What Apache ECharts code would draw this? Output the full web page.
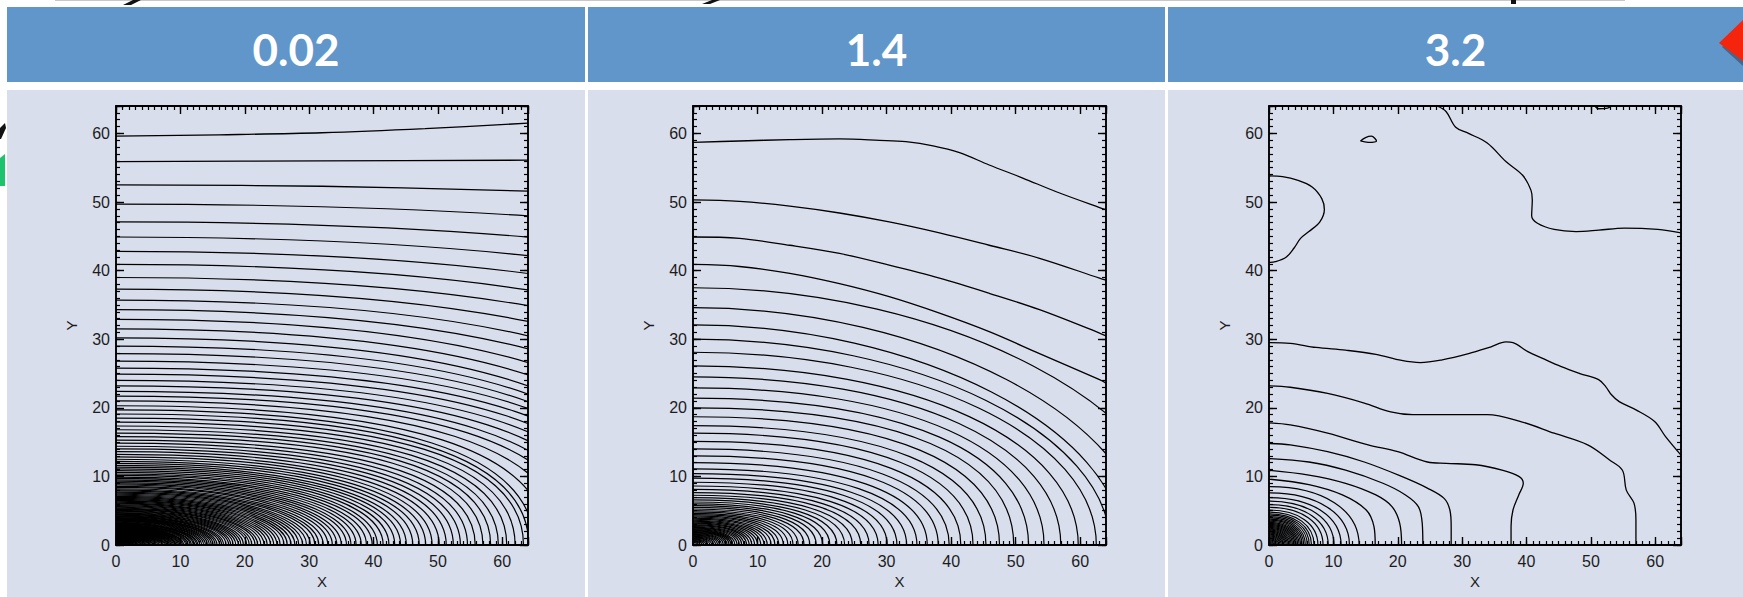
<!DOCTYPE html>
<html>
<head>
<meta charset="utf-8">
<title>Contours</title>
<script src="https://cdn.jsdelivr.net/npm/echarts@6/dist/echarts.min.js"></script>
<style>
  html, body { margin: 0; padding: 0; background: #ffffff; }
  #chart { width: 1743px; height: 597px; }
</style>
</head>
<body>
<div id="chart"></div>
<script>
// ---------------- data ----------------
const panelTitles = ['0.02', '1.4', '3.2'];
const tickLabels = ['0', '10', '20', '30', '40', '50', '60'];
const axisNames = ['X', 'Y'];
const axisMax = 64;

// Panel 1: open contours given as points
const p1Lines = [
  [[0, 59.6], [16, 59.8], [32, 60.1], [48, 60.7], [64, 61.5]],
  [[0, 55.9], [32, 56.0], [64, 56.1]],
  [[0, 52.5], [32, 52.3], [64, 51.6]]
];
// Panel 1: arcs [y at x=0, x at end, y at end]
const p1Arcs = [
  [49.7, 64, 48.0], [47.1, 64, 44.9], [44.9, 64, 42.2], [42.8, 64, 39.6], [40.9, 64, 37.2],
  [39.0, 64, 34.9], [37.3, 64, 32.6], [35.7, 64, 30.5], [34.3, 64, 28.6], [32.9, 64, 26.6],
  [31.5, 64, 24.8], [30.2, 64, 23.2], [29.0, 64, 22.0], [27.9, 64, 20.9], [26.8, 64, 19.9],
  [25.8, 64, 18.8], [24.9, 64, 17.7], [24.0, 64, 16.5], [23.2, 64, 15.2], [22.4, 64, 13.8],
  [21.7, 64, 12.4], [21.0, 64, 10.5], [20.3, 64, 8.0], [19.7, 64, 4.7], [19.1, 64, 1.7],
  [18.5, 63.3, 0], [17.9, 62.0, 0], [17.35, 60.7, 0], [16.8, 59.4, 0], [16.3, 58.2, 0],
  [15.8, 57.0, 0], [15.3, 55.8, 0], [14.85, 54.6, 0], [14.4, 53.5, 0], [14.0, 52.4, 0],
  [13.6, 51.3, 0], [13.2, 50.2, 0], [12.85, 49.1, 0], [12.5, 48.1, 0], [12.2, 47.1, 0],
  [11.9, 46.1, 0], [11.6, 45.1, 0], [11.35, 44.2, 0], [11.1, 43.3, 0], [10.85, 42.4, 0],
  [10.6, 41.5, 0], [10.35, 40.6, 0], [10.15, 39.8, 0], [9.9, 38.9, 0], [9.7, 38.1, 0],
  [9.5, 37.3, 0], [9.3, 36.5, 0], [9.1, 35.8, 0], [8.9, 35.0, 0], [8.75, 34.3, 0],
  [8.55, 33.6, 0], [8.4, 32.9, 0], [8.2, 32.2, 0], [8.05, 31.5, 0], [7.9, 30.9, 0],
  [7.7, 30.2, 0], [7.55, 29.6, 0], [7.4, 29.0, 0], [7.25, 28.4, 0], [7.1, 27.8, 0],
  [6.95, 27.2, 0], [6.8, 26.6, 0], [6.65, 26.1, 0], [6.5, 25.5, 0], [6.4, 25.0, 0],
  [6.25, 24.5, 0], [6.1, 24.0, 0], [6.0, 23.5, 0], [5.87, 23.0, 0], [5.74, 22.5, 0],
  [5.61, 22.0, 0], [5.5, 21.6, 0], [5.38, 21.1, 0], [5.28, 20.7, 0], [5.18, 20.3, 0],
  [5.05, 19.8, 0], [4.95, 19.4, 0], [4.85, 19.0, 0], [4.74, 18.6, 0], [4.64, 18.2, 0],
  [4.54, 17.8, 0], [4.46, 17.5, 0], [4.36, 17.1, 0], [4.26, 16.7, 0], [4.18, 16.4, 0],
  [4.1, 16.1, 0], [4.0, 15.7, 0], [3.93, 15.4, 0], [3.85, 15.1, 0], [3.77, 14.8, 0],
  [3.7, 14.5, 0], [3.62, 14.2, 0], [3.54, 13.9, 0], [3.47, 13.6, 0], [3.39, 13.3, 0],
  [3.32, 13.0, 0], [3.24, 12.7, 0], [3.19, 12.5, 0], [3.11, 12.2, 0], [3.06, 12.0, 0],
  [2.98, 11.7, 0], [2.93, 11.5, 0], [2.86, 11.2, 0], [2.8, 11.0, 0], [2.75, 10.8, 0],
  [2.68, 10.5, 0], [2.63, 10.3, 0], [2.58, 10.1, 0], [2.52, 9.9, 0], [2.47, 9.7, 0],
  [2.42, 9.5, 0], [2.37, 9.3, 0], [2.32, 9.1, 0], [2.27, 8.9, 0], [2.22, 8.7, 0],
  [2.17, 8.5, 0], [2.12, 8.3, 0], [2.07, 8.1, 0], [2.01, 7.9, 0], [1.96, 7.7, 0],
  [1.91, 7.5, 0], [1.86, 7.3, 0], [1.81, 7.1, 0], [1.76, 6.9, 0], [1.71, 6.7, 0],
  [1.66, 6.5, 0], [1.61, 6.3, 0], [1.56, 6.1, 0], [1.5, 5.9, 0], [1.45, 5.7, 0],
  [1.4, 5.5, 0], [1.35, 5.3, 0], [1.3, 5.1, 0], [1.25, 4.9, 0], [1.2, 4.7, 0],
  [1.15, 4.5, 0], [1.1, 4.3, 0], [1.05, 4.1, 0], [1.0, 3.9, 0], [0.94, 3.7, 0],
  [0.89, 3.5, 0], [0.84, 3.3, 0], [0.79, 3.1, 0], [0.74, 2.9, 0], [0.69, 2.7, 0],
  [0.64, 2.5, 0], [0.59, 2.3, 0], [0.54, 2.1, 0], [0.48, 1.9, 0], [0.43, 1.7, 0],
  [0.38, 1.5, 0], [0.33, 1.3, 0], [0.28, 1.1, 0], [0.23, 0.9, 0], [0.18, 0.7, 0]
];

// Panel 2
const p2Lines = [
  [[0, 58.7], [7.2, 58.9], [15, 59.1], [22.7, 59.2], [28.9, 59.0], [33, 58.8], [37.2, 58.2], [41.3, 57.2], [45.9, 55.4], [51.1, 53.5], [56.3, 51.5], [63, 49.2], [64, 48.9]],
  [[0, 50.3], [7.2, 50.1], [15, 49.4], [22.7, 48.4], [30.4, 47.1], [38.2, 45.5], [45.9, 43.7], [53.7, 41.8], [63, 38.9], [64, 38.6]],
  [[0, 44.9], [7.2, 44.7], [15, 43.7], [22.7, 42.5], [30.4, 40.8], [38.2, 38.9], [45.9, 36.7], [53.7, 34.3], [63, 30.9], [64, 30.5]],
  [[0, 40.9], [7.2, 40.6], [15, 39.6], [22.7, 38.1], [30.4, 36.2], [38.2, 33.8], [45.9, 31.1], [53.7, 27.9], [63, 24.1], [64, 23.6]]
];
const p2Arcs = [
  [37.5, 64, 19.2], [34.6, 64, 13.3], [32.1, 64, 8.2], [30.0, 64, 4.1],
  [28.1, 62.5, 0], [26.1, 59.7, 0], [24.5, 57.0, 0], [22.9, 54.4, 0], [21.4, 52.0, 0],
  [20.0, 49.7, 0], [18.7, 47.5, 0], [17.4, 45.4, 0], [16.3, 43.4, 0], [15.1, 41.5, 0],
  [14.0, 39.7, 0], [13.0, 38.0, 0], [12.0, 36.3, 0], [11.1, 34.7, 0], [10.4, 33.1, 0],
  [9.75, 31.6, 0], [9.15, 30.1, 0], [8.6, 28.7, 0], [8.1, 27.3, 0], [7.65, 26.0, 0],
  [7.25, 24.7, 0], [6.9, 23.5, 0], [6.57, 22.3, 0], [6.27, 21.2, 0], [5.99, 20.1, 0],
  [5.73, 19.1, 0], [5.48, 18.1, 0], [5.25, 17.2, 0], [5.03, 16.3, 0], [4.82, 15.5, 0],
  [4.62, 14.7, 0], [4.43, 14.0, 0], [4.25, 13.3, 0], [4.08, 12.7, 0], [3.92, 12.1, 0],
  [3.76, 11.5, 0], [3.61, 11.0, 0], [3.47, 10.5, 0], [3.33, 10.0, 0], [3.2, 9.55, 0],
  [3.07, 9.1, 0], [2.94, 8.7, 0], [2.82, 8.3, 0], [2.7, 7.9, 0], [2.58, 7.55, 0],
  [2.47, 7.2, 0], [2.36, 6.85, 0], [2.25, 6.5, 0], [2.15, 6.2, 0], [2.05, 5.9, 0],
  [1.95, 5.6, 0], [1.85, 5.3, 0], [1.75, 5.0, 0], [1.65, 4.7, 0], [1.55, 4.4, 0],
  [1.45, 4.1, 0], [1.35, 3.8, 0], [1.25, 3.5, 0], [1.15, 3.2, 0], [1.05, 2.9, 0],
  [0.95, 2.6, 0], [0.85, 2.3, 0], [0.75, 2.0, 0], [0.65, 1.7, 0], [0.55, 1.4, 0],
  [0.45, 1.1, 0], [0.35, 0.8, 0]
];

// Panel 3
const p3Lines = [
  [[26.1, 64], [27.5, 63.2], [29.0, 60.9], [31.0, 60.0], [33.9, 58.6], [36.8, 55.9], [39.4, 53.9], [40.7, 51.7], [40.9, 50.3], [40.8, 48.0], [41.7, 46.9], [44.3, 46.0], [47.7, 45.7], [51.2, 45.9], [55.2, 46.2], [60.4, 46.0], [64, 45.5]],
  [[0, 53.8], [2.1, 53.7], [4.4, 53.2], [6.7, 52.2], [8.2, 50.5], [8.6, 48.9], [7.9, 47.1], [6.2, 45.7], [4.9, 44.7], [3.9, 43.3], [2.7, 42.0], [1.0, 41.3], [0, 41.2]],
  [[14.2, 58.9], [15.0, 59.4], [15.9, 59.6], [16.7, 58.9], [15.4, 58.7], [14.2, 58.9]],
  [[50.6, 64], [51.2, 63.6], [52.6, 63.7], [53.2, 64]],
  [[0, 29.5], [3.3, 29.4], [7.3, 28.8], [11.9, 28.4], [16.6, 27.8], [20.6, 26.9], [23.5, 26.6], [26.9, 27.0], [31.0, 27.9], [34.5, 28.9], [36.8, 29.6], [37.9, 29.5], [40.2, 28.2], [42.5, 27.2], [45.4, 26.0], [48.3, 25.0], [51.2, 24.1], [52.3, 23.1], [53.2, 21.9], [54.4, 20.9], [57.0, 19.7], [59.9, 18.0], [61.6, 15.8], [64, 13.1]],
  [[0, 23.2], [3.3, 23.0], [9.1, 22.1], [14.8, 20.7], [18.9, 19.4], [22.3, 19.0], [28.1, 19.0], [33.9, 19.0], [39.1, 18.0], [44.3, 16.3], [49.5, 14.6], [52.9, 12.4], [54.9, 10.9], [55.5, 8.0], [56.7, 6.1], [57.0, 3.6], [57.0, 0]],
  [[0, 17.8], [3.3, 17.5], [9.1, 16.3], [15.4, 14.6], [20.0, 13.6], [24.6, 12.1], [27.5, 11.9], [32.1, 11.7], [36.2, 10.9], [38.8, 10.0], [39.5, 9.0], [38.8, 7.3], [37.9, 5.1], [37.6, 2.7], [37.6, 0]],
  [[0, 14.8], [3.3, 14.6], [9.1, 13.6], [14.8, 12.1], [20.6, 10.0], [24.6, 8.3], [27.2, 6.8], [28.1, 5.1], [28.3, 2.7], [28.3, 0]],
  [[0, 12.6], [6.2, 12.1], [11.9, 10.9], [17.7, 9.0], [21.2, 7.3], [23.2, 5.6], [23.8, 3.2], [23.9, 0]],
  [[0, 10.9], [6.2, 10.2], [11.9, 9.0], [16.6, 7.3], [19.1, 5.6], [20.3, 3.2], [20.6, 0]],
  [[0, 9.6], [6.2, 8.8], [11.4, 7.3], [15.1, 5.1], [16.3, 2.7], [16.5, 0]]
];
const p3Arcs = [
  [8.5, 14.0, 0], [7.6, 12.5, 0], [6.9, 11.2, 0], [6.4, 10.1, 0], [5.9, 9.2, 0],
  [5.5, 8.4, 0], [5.1, 7.6, 0], [4.8, 7.0, 0], [4.55, 6.6, 0], [4.35, 6.25, 0],
  [4.15, 5.95, 0], [3.95, 5.65, 0], [3.78, 5.4, 0], [3.62, 5.15, 0], [3.46, 4.9, 0],
  [3.3, 4.68, 0], [3.15, 4.46, 0], [3.0, 4.25, 0], [2.86, 4.05, 0], [2.72, 3.85, 0],
  [2.58, 3.65, 0], [2.44, 3.45, 0], [2.3, 3.25, 0], [2.16, 3.05, 0], [2.02, 2.86, 0],
  [1.88, 2.67, 0], [1.74, 2.48, 0], [1.6, 2.29, 0], [1.46, 2.1, 0], [1.32, 1.91, 0],
  [1.18, 1.72, 0], [1.04, 1.53, 0], [0.9, 1.34, 0], [0.76, 1.15, 0], [0.62, 0.96, 0],
  [0.48, 0.77, 0], [0.34, 0.58, 0], [0.2, 0.39, 0]
];

const panelLines = [p1Lines, p2Lines, p3Lines];
const panelArcs = [p1Arcs, p2Arcs, p3Arcs];

// ---------------- layout & style ----------------
const headerBlue = '#6096c9';
const bodyFill = '#d9deec';
const columns = [[7, 585], [588, 1165], [1168, 1743]];
const headerTop = 7, headerBottom = 82, bodyTop = 90, pageBottom = 597;
const plotBoxes = [
  { left: 116, top: 106, width: 412, height: 439 },
  { left: 693, top: 106, width: 413, height: 439 },
  { left: 1269, top: 106, width: 412, height: 439 }
];
// squareness of the arcs in each panel (0.5523 = ellipse): [outer arcs, inner arcs, b where blending starts, b where it ends]
const arcSquareness = [
  [0.68, 0.58, 16, 8],
  [0.52, 0.64, 32, 20],
  [0.6, 0.6, 10, 5]
];
const ink = '#000000';
const contourWidth = 1.2;
const labelFont = '"Liberation Sans", Arial, Helvetica, sans-serif';

// ---------------- axes ----------------
function axisSet(g, isX) {
  const base = {
    gridIndex: g, type: 'value', min: 0, max: axisMax, silent: true,
    splitLine: { show: false }, animation: false
  };
  const tickFmt = v => (tickLabels.indexOf(String(v)) >= 0 ? String(v) : '');
  const major = (pos, labelled) => Object.assign({}, base, {
    position: pos, interval: 10,
    axisLine: { show: true, onZero: false, lineStyle: { color: ink, width: 1.9 } },
    axisTick: { show: true, inside: true, length: 8, lineStyle: { color: ink, width: 1.4 } },
    axisLabel: labelled
      ? { show: true, formatter: tickFmt, fontFamily: labelFont, fontSize: 16, color: '#1c1c1c', margin: isX ? 8 : 6 }
      : { show: false },
    name: labelled ? (isX ? axisNames[0] : axisNames[1]) : '',
    nameLocation: 'middle',
    nameGap: isX ? 26 : 37,
    nameRotate: isX ? 0 : 90,
    nameTextStyle: { fontFamily: labelFont, fontSize: 15, color: '#1c1c1c' }
  });
  const minor = pos => Object.assign({}, base, {
    position: pos, interval: 1,
    axisLine: { show: false, onZero: false },
    axisTick: { show: true, inside: true, length: 4, lineStyle: { color: ink, width: 1.2 } },
    axisLabel: { show: false }
  });
  return isX
    ? [major('bottom', true), minor('bottom'), major('top', false), minor('top')]
    : [major('left', true), minor('left'), major('right', false), minor('right')];
}

const xAxes = [], yAxes = [];
plotBoxes.forEach((b, g) => {
  xAxes.push(...axisSet(g, true));
  yAxes.push(...axisSet(g, false));
});

// ---------------- series ----------------
// Cubic arc from (0,b) (horizontal start) to (a,0) (vertical end); k sets how square it is.
function arcFx(t, k) { const u = 1 - t; return 3 * k * u * u * t + 3 * u * t * t + t * t * t; }
function arcFy(t, k) { const u = 1 - t; return u * u * u + 3 * u * u * t + 3 * k * u * t * t; }
// x-reach of an arc that starts at (0,b) and passes through (xe,ye)
function arcReach(b, xe, ye, k) {
  if (ye <= 0) return xe;
  const target = ye / b;
  let lo = 0, hi = 1;
  for (let i = 0; i < 50; i++) {
    const mid = (lo + hi) / 2;
    if (arcFy(mid, k) > target) lo = mid; else hi = mid;
  }
  return xe / arcFx((lo + hi) / 2, k);
}
function squareness(cfg, b) {
  const [kOuter, kInner, bOuter, bInner] = cfg;
  if (b >= bOuter) return kOuter;
  if (b <= bInner) return kInner;
  const f = (bOuter - b) / (bOuter - bInner);
  return kOuter + (kInner - kOuter) * f;
}
function makeArcRender(cfg) {
  return function (params, api) {
    const b = api.value(0), xe = api.value(1), ye = api.value(2);
    const k = squareness(cfg, b);
    const a = arcReach(b, xe, ye, k);
    const p0 = api.coord([0, b]);
    const c1 = api.coord([k * a, b]);
    const c2 = api.coord([a, k * b]);
    const p3 = api.coord([a, 0]);
    return {
      type: 'bezierCurve',
      shape: { x1: p0[0], y1: p0[1], cpx1: c1[0], cpy1: c1[1], cpx2: c2[0], cpy2: c2[1], x2: p3[0], y2: p3[1] },
      style: { stroke: ink, lineWidth: contourWidth, fill: 'none' }
    };
  };
}

const series = [];
plotBoxes.forEach((b, g) => {
  series.push({
    type: 'custom', xAxisIndex: 4 * g, yAxisIndex: 4 * g,
    data: panelArcs[g], renderItem: makeArcRender(arcSquareness[g]), clip: true, silent: true, animation: false, z: 3
  });
  panelLines[g].forEach(pts => {
    series.push({
      type: 'line', xAxisIndex: 4 * g, yAxisIndex: 4 * g, data: pts,
      smooth: 0.35, symbol: 'none', showSymbol: false, clip: true, silent: true, animation: false,
      lineStyle: { color: ink, width: contourWidth + 0.1 }, z: 3
    });
  });
});

// ---------------- page decoration ----------------
const graphics = [];
columns.forEach((c, i) => {
  graphics.push({ type: 'rect', z: -10, silent: true, shape: { x: c[0], y: headerTop, width: c[1] - c[0], height: headerBottom - headerTop }, style: { fill: headerBlue } });
  graphics.push({ type: 'rect', z: -10, silent: true, shape: { x: c[0], y: bodyTop, width: c[1] - c[0], height: pageBottom - bodyTop }, style: { fill: bodyFill } });
  graphics.push({
    type: 'text', z: 5, silent: true,
    style: {
      text: panelTitles[i], x: (c[0] + c[1]) / 2, y: 49,
      fill: '#ffffff', fontFamily: 'Lato, "Open Sans", sans-serif', fontWeight: 'bold', fontSize: 44,
      align: 'center', verticalAlign: 'middle'
    }
  });
});
// red pointer at the right margin
graphics.push({ type: 'polygon', z: 4, silent: true, shape: { points: [[1722, 47], [1743, 25], [1743, 66]] }, style: { fill: 'rgba(0,0,0,0.3)' } });
graphics.push({ type: 'polygon', z: 5, silent: true, shape: { points: [[1719, 43], [1743, 20], [1743, 61]] }, style: { fill: '#f4250c' } });
// slivers of neighbouring shapes at the left margin
graphics.push({ type: 'polygon', z: 5, silent: true, shape: { points: [[0, 128], [5, 123], [6, 128], [1, 139], [0, 139]] }, style: { fill: '#111' } });
graphics.push({ type: 'polygon', z: 5, silent: true, shape: { points: [[0, 158], [5, 154], [5, 186], [0, 186]] }, style: { fill: '#1fc26d' } });
// thin rule and clipped glyph tails along the top edge
graphics.push({ type: 'rect', z: 5, silent: true, shape: { x: 55, y: 0, width: 1570, height: 1 }, style: { fill: '#c8c8c8' } });
graphics.push({ type: 'polygon', z: 5, silent: true, shape: { points: [[133, 0], [141, 0], [131, 5], [123, 5]] }, style: { fill: '#111' } });
graphics.push({ type: 'polygon', z: 5, silent: true, shape: { points: [[712, 0], [720, 0], [710, 4], [702, 4]] }, style: { fill: '#111' } });
graphics.push({ type: 'rect', z: 5, silent: true, shape: { x: 1511, y: 0, width: 5, height: 4 }, style: { fill: '#111' } });

const chart = echarts.init(document.getElementById('chart'), null, { renderer: 'svg', width: 1743, height: 597 });
chart.setOption({
  animation: false,
  backgroundColor: '#ffffff',
  grid: plotBoxes.map(b => ({ left: b.left, top: b.top, width: b.width, height: b.height, containLabel: false })),
  xAxis: xAxes,
  yAxis: yAxes,
  series: series,
  graphic: graphics
});
</script>
</body>
</html>
